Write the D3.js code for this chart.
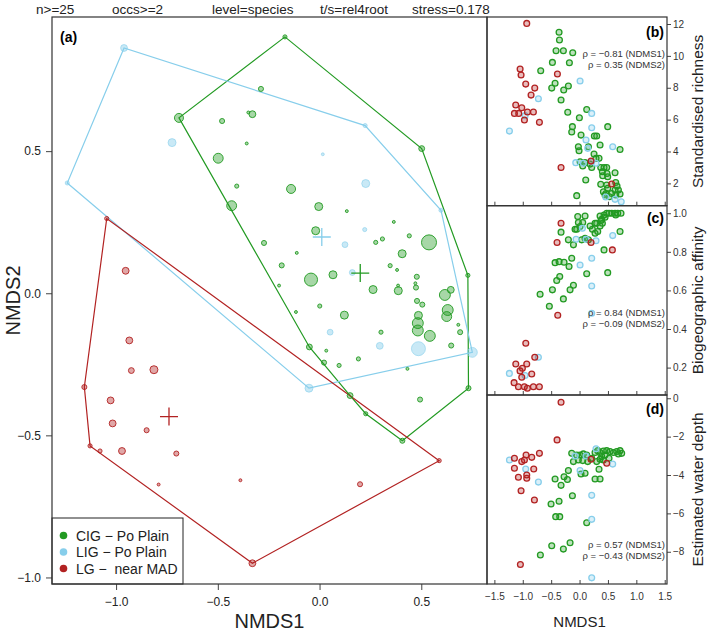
<!DOCTYPE html>
<html><head><meta charset="utf-8">
<script src="https://cdn.jsdelivr.net/npm/d3@7"></script>
<style>body{margin:0;background:#fff}svg{display:block}</style>
</head><body>
<script>
// ---------------- DATA ----------------
const groups = ["CIG - Po Plain", "LIG - Po Plain", "LG - near MAD"];
const infoLabels = ["n>=25", "occs>=2", "level=species", "t/s=rel4root", "stress=0.178"];
// NMDS ordination: [NMDS1, NMDS2, sampleSize]
const nmdsCIG = [[-0.170,0.902,4],[0.502,0.509,8],[0.729,0.063,4],[0.732,-0.334,6],[0.407,-0.519,6],[0.227,-0.424,4],[0.150,-0.360,8],[0.022,-0.244,6],[-0.050,-0.189,8],[-0.691,0.617,19],
[-0.288,0.719,6],[-0.330,0.630,11],[-0.350,0.636,2],[-0.479,0.606,6],[-0.358,0.527,2],[-0.498,0.475,23],[-0.407,0.377,4],[-0.432,0.308,23],[-0.273,0.177,6],[-0.140,0.367,19],[-0.004,0.305,15],[0.134,0.289,2],[0.365,0.251,2],[-0.019,0.220,15],[0.276,0.179,4],[0.309,0.191,4],[0.441,0.202,4],[0.538,0.179,53],[-0.112,0.142,2],[0.406,0.139,15],[-0.186,0.098,6],[0.347,0.097,4],[0.381,0.082,2],[-0.042,0.048,40],[0.066,0.065,15],[-0.199,0.027,2],[0.478,0.058,6],[0.263,0.013,15],[0.386,0.027,2],[0.387,0.009,15],[0.474,0.020,6],[0.471,0.035,2],[0.616,-0.006,28],[0.645,0.012,11],[0.479,-0.027,6],[0.505,-0.040,6],[0.630,-0.059,28],[0.001,-0.045,4],[-0.116,-0.066,2],[0.122,-0.077,15],[0.486,-0.078,15],[0.625,-0.082,23],[0.483,-0.105,28],[0.483,-0.131,28],[0.542,-0.150,28],[0.682,-0.111,2],[0.691,-0.137,6],[0.647,-0.184,6],[0.302,-0.137,4],[0.033,-0.202,2],[0.191,-0.231,4],[0.096,-0.254,4],[0.432,-0.266,2],[0.494,-0.374,6]];
const nmdsLIG = [[-0.961,0.863,11],[-1.240,0.388,4],[-0.052,-0.334,15],[0.751,-0.208,23],[0.597,0.292,4],[0.224,0.590,4],[-0.725,0.530,15],[0.016,0.489,2],[0.227,0.386,15],[0.222,0.224,4],[0.125,0.171,8],[0.161,0.073,8],[0.052,-0.137,8],[0.296,-0.185,11],[0.486,-0.195,46]];
const nmdsLG = [[-1.046,0.263,4],[-1.156,-0.330,6],[-1.128,-0.537,4],[-0.330,-0.950,11],[0.588,-0.589,4],[-0.935,-0.166,11],[-0.925,-0.272,8],[-0.814,-0.269,15],[-1.027,-0.377,11],[-1.017,-0.458,11],[-0.850,-0.482,6],[-1.079,-0.555,4],[-0.971,-0.555,11],[-0.704,-0.564,6],[-0.791,-0.673,2],[-0.389,-0.658,2],[0.199,-0.672,6],[-0.953,0.079,11]];
const centroids = [[0.20,0.071],[0.011,0.198],[-0.74,-0.434]];

// panel b: [NMDS1, standardised richness]
const richCIG = [[-0.361,11.48],[-0.354,11.0],[-0.414,10.32],[-0.285,10.32],[-0.120,10.20],[-0.478,9.59],[-0.179,9.57],[-0.684,9.07],[-0.431,8.28],[-0.490,7.98],[-0.197,8.11],[-0.279,7.86],[-0.326,7.23],[-0.208,6.46],[0.126,6.64],[-0.003,6.12],[-0.126,5.56],[-0.138,5.22],[0.026,5.03],[0.261,4.97],[0.302,4.97],[0.496,5.56],[-0.021,4.30],[-0.009,4.05],[0.156,4.30],[0.361,4.41],[0.713,4.13],[0.255,3.84],[0.290,3.57],[0.343,3.57],[0.009,3.36],[0.097,3.30],[0.056,3.09],[0.185,3.21],[0.373,3.00],[0.431,3.00],[0.402,2.73],[0.478,3.00],[0.484,2.62],[0.408,2.48],[0.496,2.42],[0.625,2.67],[0.109,2.21],[0.373,1.94],[-0.050,1.23],[0.478,1.90],[0.496,1.69],[0.420,1.48],[0.467,1.37],[0.525,1.16],[0.566,1.37],[0.637,2.06],[0.660,1.83],[0.684,1.58],[0.713,1.33],[0.637,1.27],[0.625,1.58],[0.449,1.27],[0.214,3.00]];
const richLIG = [[-0.725,7.31],[-0.959,6.25],[-1.235,5.28],[0.009,8.42],[0.214,6.39],[0.214,5.49],[0.114,4.72],[0.584,4.30],[-0.067,3.30],[0.067,3.26],[0.214,3.36],[0.290,3.26],[0.144,4.20],[0.625,1.00],[0.461,1.15],[0.734,0.85]];
const richLG = [[-0.930,12.04],[-1.047,9.18],[-1.030,8.80],[-0.948,8.23],[-0.789,7.98],[-0.854,7.54],[-1.124,6.92],[-1.018,6.75],[-1.147,6.39],[-1.071,6.39],[-0.918,6.48],[-0.813,6.48],[-0.971,5.98],[-0.707,5.83],[-0.390,8.86],[-0.326,3.00],[0.202,3.40],[0.566,1.96]];

// panel c: [NMDS1, biogeographic affinity]
const affCIG = [[-0.032,0.983],[0.097,0.986],[-0.021,0.952],[0.009,0.931],[0.056,0.952],[-0.326,0.902],[-0.079,0.917],[-0.050,0.917],[0.185,0.934],[0.273,0.948],[0.226,0.917],[0.320,0.905],[0.361,0.934],[0.402,0.948],[0.361,0.986],[0.390,0.969],[0.431,0.991],[0.478,1.0],[0.519,1.0],[0.566,1.0],[0.625,1.0],[0.672,1.0],[0.730,1.0],[0.637,0.991],[0.449,0.979],[0.379,0.962],[0.302,0.948],[0.713,0.905],[0.273,0.896],[-0.197,0.862],[-0.108,0.836],[0.038,0.862],[0.097,0.870],[0.156,0.862],[0.431,0.810],[-0.431,0.744],[-0.361,0.749],[-0.273,0.746],[-0.138,0.767],[-0.185,0.724],[-0.349,0.672],[-0.402,0.651],[0.126,0.686],[0.496,0.692],[-0.695,0.580],[-0.478,0.603],[-0.108,0.627],[-0.167,0.603],[-0.285,0.556],[-0.532,0.518]];
const affLIG = [[-0.725,0.254],[-1.236,0.170],[-0.960,0.159],[0.214,0.482],[0.214,0.623],[0.009,0.732],[0.214,0.767],[0.290,0.857],[0.584,0.884],[-0.061,0.865],[0.114,0.865],[0.050,0.922]];
const affLG = [[-0.326,0.948],[-0.396,0.848],[0.578,0.810],[0.202,0.848],[-0.384,0.471],[-0.947,0.326],[-0.789,0.254],[-1.123,0.219],[-0.930,0.219],[-1.007,0.197],[-1.048,0.183],[-1.018,0.150],[-0.842,0.167],[-1.153,0.122],[-1.077,0.101],[-0.972,0.101],[-0.919,0.093],[-0.813,0.101],[-0.708,0.101]];

// panel d: [NMDS1, estimated water depth]
const depthCIG = [[-0.138,-2.87],[-0.108,-3.30],[-0.050,-2.96],[0.009,-2.96],[0.067,-2.90],[0.126,-2.96],[-0.021,-3.22],[0.056,-3.25],[0.144,-3.30],[0.214,-3.13],[0.273,-2.83],[0.320,-2.73],[0.361,-2.83],[0.420,-2.75],[0.478,-2.73],[0.537,-2.78],[0.596,-2.83],[0.654,-2.78],[0.713,-2.73],[0.742,-2.87],[0.684,-2.90],[0.390,-3.04],[0.449,-2.96],[0.302,-3.30],[0.361,-3.18],[0.420,-3.22],[0.519,-3.13],[0.097,-3.91],[0.026,-3.95],[0.343,-3.70],[0.273,-4.21],[0.361,-4.21],[-0.197,-3.77],[-0.273,-4.09],[-0.214,-4.23],[-0.431,-4.21],[-0.326,-4.54],[-0.126,-5.08],[-0.502,-5.51],[-0.361,-5.37],[-0.420,-6.17],[-0.349,-6.17],[0.126,-6.49],[-0.490,-7.69],[-0.690,-8.17],[-0.167,-7.53],[-0.285,-7.86]];
const depthLIG = [[-1.235,-3.22],[-0.948,-3.69],[-0.725,-4.37],[0.009,-3.77],[0.214,-5.06],[0.214,-6.31],[0.214,-9.36],[0.290,-2.63],[0.114,-3.01],[-0.079,-3.01],[0.584,-3.43]];
const depthLG = [[-0.326,-0.21],[-0.396,-2.17],[-1.147,-3.13],[-1.018,-3.30],[-0.942,-2.96],[-0.971,-3.22],[-0.842,-3.08],[-0.707,-2.87],[-1.147,-3.65],[-0.807,-3.69],[-1.077,-4.12],[-0.930,-4.00],[-0.930,-4.17],[-1.030,-4.82],[-0.795,-5.30],[-1.042,-8.66],[0.202,-3.18],[0.478,-3.39]];

const rhoB = ["\u03c1 = \u22120.81 (NDMS1)", "\u03c1 = 0.35 (NDMS2)"];
const rhoC = ["\u03c1 = 0.84 (NDMS1)", "\u03c1 = \u22120.09 (NDMS2)"];
const rhoD = ["\u03c1 = 0.57 (NDMS1)", "\u03c1 = \u22120.43 (NDMS2)"];
const sideTitles = ["Standardised richness", "Biogeographic affinity", "Estimated water depth"];

// ---------------- DRAW ----------------
const colors = ["#229a22", "#87ceeb", "#b22222"];
const W = 709, H = 633;
const svg = d3.select("body").append("svg").attr("width", W).attr("height", H)
  .style("font-family", "'Liberation Sans', Arial, sans-serif");

// info line
const infoX = [36, 112, 212, 320, 412];
svg.selectAll("text.info").data(infoLabels).join("text").attr("class", "info")
  .attr("x", (d, i) => infoX[i]).attr("y", 14).attr("font-size", 13.5).attr("fill", "#222").text(d => d);

// main panel
const L = 52, R = 487, T = 17, B = 584;
const x = d3.scaleLinear().domain([-1.315, 0.823]).range([L, R]);
const y = d3.scaleLinear().domain([-1.023, 0.972]).range([B, T]);
const rS = d3.scaleSqrt().domain([0, 60]).range([0, 8]);
const fmt = d3.format(".1f");

const gx = svg.append("g").attr("transform", `translate(0,${B})`)
  .call(d3.axisBottom(x).tickValues([-1, -0.5, 0, 0.5]).tickFormat(fmt).tickSize(6).tickPadding(7));
const gy = svg.append("g").attr("transform", `translate(${L},0)`)
  .call(d3.axisLeft(y).tickValues([-1, -0.5, 0, 0.5]).tickFormat(fmt).tickSize(6).tickPadding(5));
[gx, gy].forEach(g => { g.select(".domain").remove(); g.selectAll("text").attr("font-size", 12).attr("fill", "#222").style("font-family", "'Liberation Sans', Arial, sans-serif"); g.selectAll("line").attr("stroke", "#444"); });

const sets = [nmdsCIG, nmdsLIG, nmdsLG];
const plot = svg.append("g");
// hulls
sets.forEach((s, i) => {
  const hull = d3.polygonHull(s.map(d => [x(d[0]), y(d[1])]));
  plot.append("path").attr("d", "M" + hull.join("L") + "Z")
    .attr("fill", "none").attr("stroke", colors[i]).attr("stroke-width", 1.2);
});
// points
sets.forEach((s, i) => {
  plot.selectAll(null).data(s).join("circle")
    .attr("cx", d => x(d[0])).attr("cy", d => y(d[1])).attr("r", d => rS(d[2]))
    .attr("fill", colors[i]).attr("fill-opacity", i === 1 ? 0.45 : 0.4)
    .attr("stroke", colors[i]).attr("stroke-opacity", i === 1 ? 0.6 : 0.9).attr("stroke-width", 1);
});
// centroids
centroids.forEach((c, i) => {
  const cx = x(c[0]), cy = y(c[1]);
  plot.append("path").attr("d", `M${cx - 9},${cy}H${cx + 9}M${cx},${cy - 9}V${cy + 9}`)
    .attr("stroke", colors[i]).attr("stroke-width", 1.3).attr("fill", "none");
});
svg.append("text").attr("x", 60).attr("y", 42).attr("font-size", 14).attr("font-weight", "bold").text("(a)");

// legend
const lg = svg.append("g");
lg.append("rect").attr("x", L).attr("y", 518).attr("width", 131).attr("height", B - 518)
  .attr("fill", "#fff").attr("stroke", "#222").attr("stroke-width", 1);
groups.forEach((g, i) => {
  const yy = 535.5 + i * 16.5;
  lg.append("circle").attr("cx", 63.5).attr("cy", yy).attr("r", 3.8).attr("fill", colors[i]);
  lg.append("text").attr("x", 76).attr("y", yy + 5).attr("font-size", 14).attr("fill", "#222")
    .text(g.replace(/ - /, " \u2212 ").replace("LG \u2212 near", "LG \u2212  near")).style("white-space", "pre").attr("xml:space", "preserve");
});

svg.append("rect").attr("x", L).attr("y", T).attr("width", R - L).attr("height", B - T)
  .attr("fill", "none").attr("stroke", "#333").attr("stroke-width", 1.2);
svg.append("text").attr("x", (L + R) / 2).attr("y", 628).attr("text-anchor", "middle").attr("font-size", 20).attr("fill", "#222").text("NMDS1");
svg.append("text").attr("transform", `translate(20,${(T + B) / 2}) rotate(-90)`).attr("text-anchor", "middle").attr("font-size", 20).attr("fill", "#222").text("NMDS2");

// right panels
const RL = 487, RR = 667;
const xr = d3.scaleLinear().domain([-1.63, 1.54]).range([RL, RR]);
const panels = [
  {top: 17, bot: 205.7, dom: [0.60, 12.44], ticks: [2, 4, 6, 8, 10, 12], f: d3.format("d"), sets: [richCIG, richLIG, richLG], rho: rhoB, rhoY: 53, lab: "(b)", labY: 37},
  {top: 205.7, bot: 395, dom: [0.058, 1.039], ticks: [0.2, 0.4, 0.6, 0.8, 1.0], f: d3.format(".1f"), sets: [affCIG, affLIG, affLG], rho: rhoC, rhoY: 312, lab: "(c)", labY: 223},
  {top: 395, bot: 584, dom: [-9.68, 0.17], ticks: [0, -2, -4, -6, -8], f: d3.format("d"), sets: [depthCIG, depthLIG, depthLG], rho: rhoD, rhoY: 544, lab: "(d)", labY: 414}
];
panels.forEach((p, k) => {
  const yp = d3.scaleLinear().domain(p.dom).range([p.bot, p.top]);
  const g = svg.append("g");
  const ax = g.append("g").attr("transform", `translate(0,${p.bot})`)
    .call(d3.axisBottom(xr).tickValues([-1.5, -1, -0.5, 0, 0.5, 1, 1.5]).tickSize(-4).tickPadding(9)
      .tickFormat(k === 2 ? fmt : () => ""));
  ax.select(".domain").remove();
  ax.selectAll("line").attr("stroke", "#444");
  ax.selectAll("text").attr("font-size", 10).attr("fill", "#333").style("font-family", "'Liberation Sans', Arial, sans-serif");
  const ay = g.append("g").attr("transform", `translate(${RR},0)`)
    .call(d3.axisRight(yp).tickValues(p.ticks).tickFormat(p.f).tickSize(4).tickPadding(2));
  ay.select(".domain").remove();
  ay.selectAll("line").attr("stroke", "#444");
  ay.selectAll("text").attr("font-size", 10).attr("fill", "#333").style("font-family", "'Liberation Sans', Arial, sans-serif");
  p.sets.forEach((s, i) => {
    g.selectAll(null).data(s).join("circle")
      .attr("cx", d => xr(d[0])).attr("cy", d => yp(d[1])).attr("r", 2.9)
      .attr("fill", colors[i]).attr("fill-opacity", 0.3)
      .attr("stroke", colors[i]).attr("stroke-width", 1.3);
  });
  g.append("rect").attr("x", RL).attr("y", p.top).attr("width", RR - RL).attr("height", p.bot - p.top)
    .attr("fill", "none").attr("stroke", "#333").attr("stroke-width", 1.2);
  p.rho.forEach((t, j) => g.append("text").attr("x", 665).attr("y", p.rhoY + 3.5 + j * 11).attr("text-anchor", "end")
    .attr("font-size", 9.5).attr("fill", "#333").text(t));
  g.append("text").attr("x", 664).attr("y", p.labY).attr("text-anchor", "end").attr("font-size", 14).attr("font-weight", "bold").text(p.lab);
  g.append("text").attr("transform", `translate(703,${(p.top + p.bot) / 2}) rotate(-90)`).attr("text-anchor", "middle")
    .attr("font-size", 15.5).attr("fill", "#222").text(sideTitles[k]);
});
svg.append("text").attr("x", xr(0)).attr("y", 627).attr("text-anchor", "middle").attr("font-size", 15).attr("fill", "#222").text("NMDS1");
</script>
</body></html>
